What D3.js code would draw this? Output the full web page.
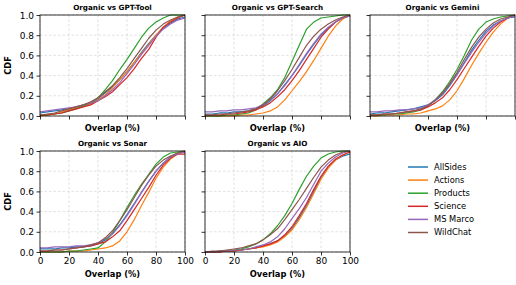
<!DOCTYPE html>
<html>
<head>
<meta charset="utf-8">
<script src="https://cdn.jsdelivr.net/npm/d3@7"></script>
<style>
	body { margin: 0; background: #fff; }
	svg, svg text { font-family: "DejaVu Sans", sans-serif; }
	.grid line { stroke: #cccccc; stroke-dasharray: 2.5,2; stroke-width: 0.6; }
	.title { font-weight: bold; font-size: 7.2px; }
	.lab { font-weight: bold; font-size: 8.3px; }
	.tick text { font-family: "DejaVu Sans", sans-serif; font-size: 9px; fill: #000; }
</style>
</head>
<body>
<div id="svg-container"></div>
<script>

// DATA
const xGrid = [0, 5, 10, 15, 20, 25, 30, 35, 40, 45, 50, 55, 60, 65, 70, 75, 80, 85, 90, 95, 100];
const seriesNames = ["AllSides", "Actions", "Products", "Science", "MS Marco", "WildChat"];
const panelTitles = ["Organic vs GPT-Tool", "Organic vs GPT-Search", "Organic vs Gemini", "Organic vs Sonar", "Organic vs AIO"];
const xTicks = [0, 20, 40, 60, 80, 100];
const yTicks = [0, 0.2, 0.4, 0.6, 0.8, 1.0];

// cdf values at xGrid, per panel, per series (order of seriesNames)
const gptTool = [
	[0.03,0.04,0.05,0.06,0.07,0.09,0.11,0.13,0.17,0.23,0.29,0.36,0.44,0.53,0.63,0.72,0.80,0.87,0.92,0.96,0.98],
	[0,0.01,0.02,0.04,0.06,0.08,0.10,0.12,0.16,0.21,0.28,0.36,0.44,0.53,0.62,0.71,0.80,0.88,0.94,0.98,1.0],
	[0.01,0.01,0.02,0.03,0.05,0.07,0.10,0.13,0.18,0.26,0.35,0.46,0.56,0.67,0.78,0.87,0.93,0.97,1.0,1.0,1.0],
	[0.01,0.01,0.02,0.03,0.05,0.07,0.09,0.11,0.15,0.19,0.24,0.31,0.38,0.47,0.57,0.66,0.78,0.88,0.93,0.97,1.0],
	[0.04,0.05,0.06,0.07,0.08,0.09,0.11,0.13,0.15,0.20,0.26,0.33,0.42,0.51,0.61,0.70,0.79,0.86,0.91,0.95,0.97],
	[0.01,0.02,0.03,0.05,0.07,0.09,0.11,0.14,0.18,0.24,0.30,0.38,0.47,0.57,0.67,0.77,0.85,0.91,0.95,0.98,1.0]
];
const gptSearch = [
	[0.02,0.02,0.03,0.03,0.04,0.04,0.05,0.07,0.10,0.15,0.22,0.31,0.40,0.50,0.61,0.71,0.80,0.87,0.93,0.97,0.99],
	[0,0,0,0,0,0.01,0.01,0.02,0.03,0.05,0.09,0.16,0.25,0.34,0.44,0.55,0.67,0.79,0.89,0.96,1.0],
	[0,0,0,0.01,0.01,0.02,0.03,0.06,0.12,0.18,0.26,0.38,0.54,0.70,0.86,0.93,0.97,0.98,0.99,1.0,1.0],
	[0.01,0.01,0.01,0.02,0.02,0.03,0.04,0.06,0.09,0.13,0.19,0.26,0.35,0.45,0.56,0.67,0.78,0.86,0.93,0.97,1.0],
	[0.04,0.04,0.05,0.05,0.06,0.06,0.07,0.08,0.11,0.16,0.22,0.30,0.40,0.51,0.62,0.72,0.81,0.88,0.93,0.97,0.99],
	[0.01,0.01,0.02,0.02,0.03,0.04,0.05,0.07,0.11,0.17,0.25,0.35,0.46,0.58,0.70,0.79,0.86,0.91,0.95,0.98,1.0]
];
const gemini = [
	[0.02,0.03,0.03,0.04,0.05,0.06,0.07,0.09,0.11,0.15,0.21,0.30,0.41,0.53,0.65,0.75,0.84,0.90,0.94,0.97,0.98],
	[0,0,0.01,0.01,0.01,0.02,0.02,0.03,0.05,0.07,0.10,0.16,0.25,0.37,0.50,0.62,0.73,0.83,0.91,0.97,1.0],
	[0.01,0.01,0.01,0.02,0.02,0.03,0.04,0.06,0.10,0.16,0.24,0.34,0.46,0.60,0.75,0.86,0.93,0.96,0.98,0.99,1.0],
	[0.01,0.01,0.02,0.02,0.03,0.04,0.05,0.06,0.09,0.13,0.18,0.26,0.36,0.47,0.58,0.69,0.79,0.87,0.93,0.97,1.0],
	[0.04,0.04,0.05,0.05,0.06,0.06,0.07,0.08,0.11,0.16,0.22,0.31,0.41,0.52,0.63,0.73,0.82,0.89,0.94,0.97,0.99],
	[0.01,0.01,0.02,0.02,0.03,0.04,0.05,0.07,0.10,0.16,0.23,0.32,0.43,0.56,0.68,0.78,0.86,0.92,0.96,0.98,1.0]
];
const sonar = [
	[0.03,0.03,0.03,0.04,0.04,0.05,0.05,0.06,0.08,0.12,0.18,0.27,0.37,0.48,0.59,0.70,0.80,0.88,0.94,0.98,0.99],
	[0,0,0,0,0.01,0.01,0.01,0.02,0.03,0.04,0.06,0.11,0.20,0.32,0.46,0.59,0.73,0.84,0.92,0.97,1.0],
	[0,0,0,0,0.01,0.01,0.02,0.03,0.04,0.10,0.19,0.31,0.44,0.56,0.67,0.77,0.87,0.94,0.98,0.99,1.0],
	[0.01,0.01,0.02,0.02,0.03,0.04,0.05,0.06,0.08,0.10,0.15,0.21,0.31,0.42,0.53,0.64,0.76,0.86,0.93,0.97,0.97],
	[0.04,0.04,0.05,0.05,0.05,0.06,0.06,0.07,0.09,0.13,0.18,0.26,0.36,0.47,0.59,0.70,0.80,0.88,0.94,0.97,0.99],
	[0.01,0.01,0.02,0.02,0.03,0.04,0.05,0.07,0.09,0.14,0.21,0.31,0.42,0.54,0.66,0.76,0.85,0.91,0.95,0.98,1.0]
];
const aio = [
	[0,0,0,0.01,0.01,0.02,0.03,0.04,0.06,0.08,0.11,0.16,0.23,0.34,0.46,0.60,0.74,0.84,0.91,0.95,0.97],
	[0,0,0,0.01,0.01,0.02,0.03,0.04,0.05,0.07,0.10,0.15,0.22,0.32,0.44,0.58,0.72,0.83,0.91,0.96,0.99],
	[0,0,0.01,0.01,0.02,0.03,0.05,0.08,0.12,0.18,0.26,0.36,0.48,0.62,0.75,0.85,0.93,0.97,0.99,1.0,1.0],
	[0,0,0,0.01,0.01,0.02,0.03,0.04,0.06,0.08,0.11,0.17,0.25,0.36,0.48,0.62,0.75,0.85,0.92,0.96,0.99],
	[0,0,0.01,0.01,0.02,0.02,0.03,0.05,0.07,0.10,0.15,0.23,0.33,0.43,0.54,0.67,0.80,0.88,0.94,0.98,1.0],
	[0,0.01,0.01,0.02,0.03,0.04,0.06,0.08,0.12,0.17,0.23,0.32,0.42,0.52,0.63,0.74,0.84,0.91,0.96,0.99,1.0]
];
const panelData = [gptTool, gptSearch, gemini, sonar, aio];


// CHART
function graphData() {
	const w = 516;
	const h = 285;
	const colors = ["#1f77b4", "#ff7f0e", "#2ca02c", "#d62728", "#9467bd", "#8c564b"];

	// panel geometry
	const colX = [40, 205, 370];
	const rowY = [15, 151];
	const pw = 145;
	const ph = 101;

	const svg = d3.select("#svg-container")
		.append("svg")
		.attr("width", w)
		.attr("height", h);

	panelData.forEach((series, i) => {
		const col = i % 3;
		const row = Math.floor(i / 3);
		const x0 = colX[col];
		const y0 = rowY[row];

		const xScale = d3.scaleLinear().domain([0, 100]).range([0, pw]);
		const yScale = d3.scaleLinear().domain([0, 1]).range([ph, 0]);

		const g = svg.append("g").attr("transform", `translate(${x0}, ${y0})`);

		// grid
		const grid = g.append("g").attr("class", "grid");
		grid.selectAll(".gx")
			.data(xTicks)
			.enter()
			.append("line")
			.attr("x1", d => xScale(d)).attr("x2", d => xScale(d))
			.attr("y1", 0).attr("y2", ph);
		grid.selectAll(".gy")
			.data(yTicks)
			.enter()
			.append("line")
			.attr("y1", d => yScale(d)).attr("y2", d => yScale(d))
			.attr("x1", 0).attr("x2", pw);

		// lines
		const line = d3.line()
			.x((d, k) => xScale(xGrid[k]))
			.y(d => yScale(d));
		g.selectAll(".cdf")
			.data(series)
			.enter()
			.append("path")
			.attr("d", d => line(d))
			.attr("fill", "none")
			.attr("stroke", (d, k) => colors[k])
			.attr("stroke-width", 1.2)
			.attr("stroke-linejoin", "round");

		// frame
		g.append("rect")
			.attr("width", pw).attr("height", ph)
			.attr("fill", "none")
			.attr("stroke", "#000")
			.attr("stroke-width", 0.8);

		// x-axis
		const xAxis = d3.axisBottom(xScale)
			.tickValues(xTicks)
			.tickSize(3.5)
			.tickPadding(2.5)
			.tickFormat(row === 1 ? d => d : () => "");
		const gx = g.append("g")
			.attr("transform", `translate(0, ${ph})`)
			.call(xAxis)
			.attr("font-family", null)
			.attr("font-size", null);
		gx.select(".domain").remove();
		gx.selectAll("line").attr("stroke-width", 0.8);

		// y-axis
		const yAxis = d3.axisLeft(yScale)
			.tickValues(yTicks)
			.tickSize(3.5)
			.tickPadding(2.5)
			.tickFormat(col === 0 ? d3.format(".1f") : () => "");
		const gy = g.append("g")
			.call(yAxis)
			.attr("font-family", null)
			.attr("font-size", null);
		gy.select(".domain").remove();
		gy.selectAll("line").attr("stroke-width", 0.8);
		gy.selectAll("text").attr("dy", "0.35em");

		// title
		g.append("text")
			.attr("class", "title")
			.attr("x", pw / 2)
			.attr("y", -5)
			.attr("text-anchor", "middle")
			.text(panelTitles[i]);

		// x label
		g.append("text")
			.attr("class", "lab")
			.attr("x", pw / 2)
			.attr("y", row === 1 ? ph + 24.5 : ph + 14.5)
			.attr("text-anchor", "middle")
			.text("Overlap (%)");

		// y label
		if (col === 0) {
			g.append("text")
				.attr("class", "lab")
				.attr("transform", `translate(${-29}, ${ph / 2}) rotate(-90)`)
				.attr("text-anchor", "middle")
				.text("CDF");
		}
	});

	// legend
	const legend = svg.append("g").attr("transform", "translate(408, 167)");
	const items = legend.selectAll("g")
		.data(seriesNames)
		.enter()
		.append("g")
		.attr("transform", (d, k) => `translate(0, ${k * 13.1})`);
	items.append("line")
		.attr("x1", 0).attr("x2", 20)
		.attr("stroke", (d, k) => colors[k])
		.attr("stroke-width", 1.5);
	items.append("text")
		.attr("x", 26)
		.attr("dy", "0.35em")
		.style("font-size", "8.3px")
		.text(d => d);
}

document.addEventListener('DOMContentLoaded', () => {
	graphData();
});
</script>
</body>
</html>
